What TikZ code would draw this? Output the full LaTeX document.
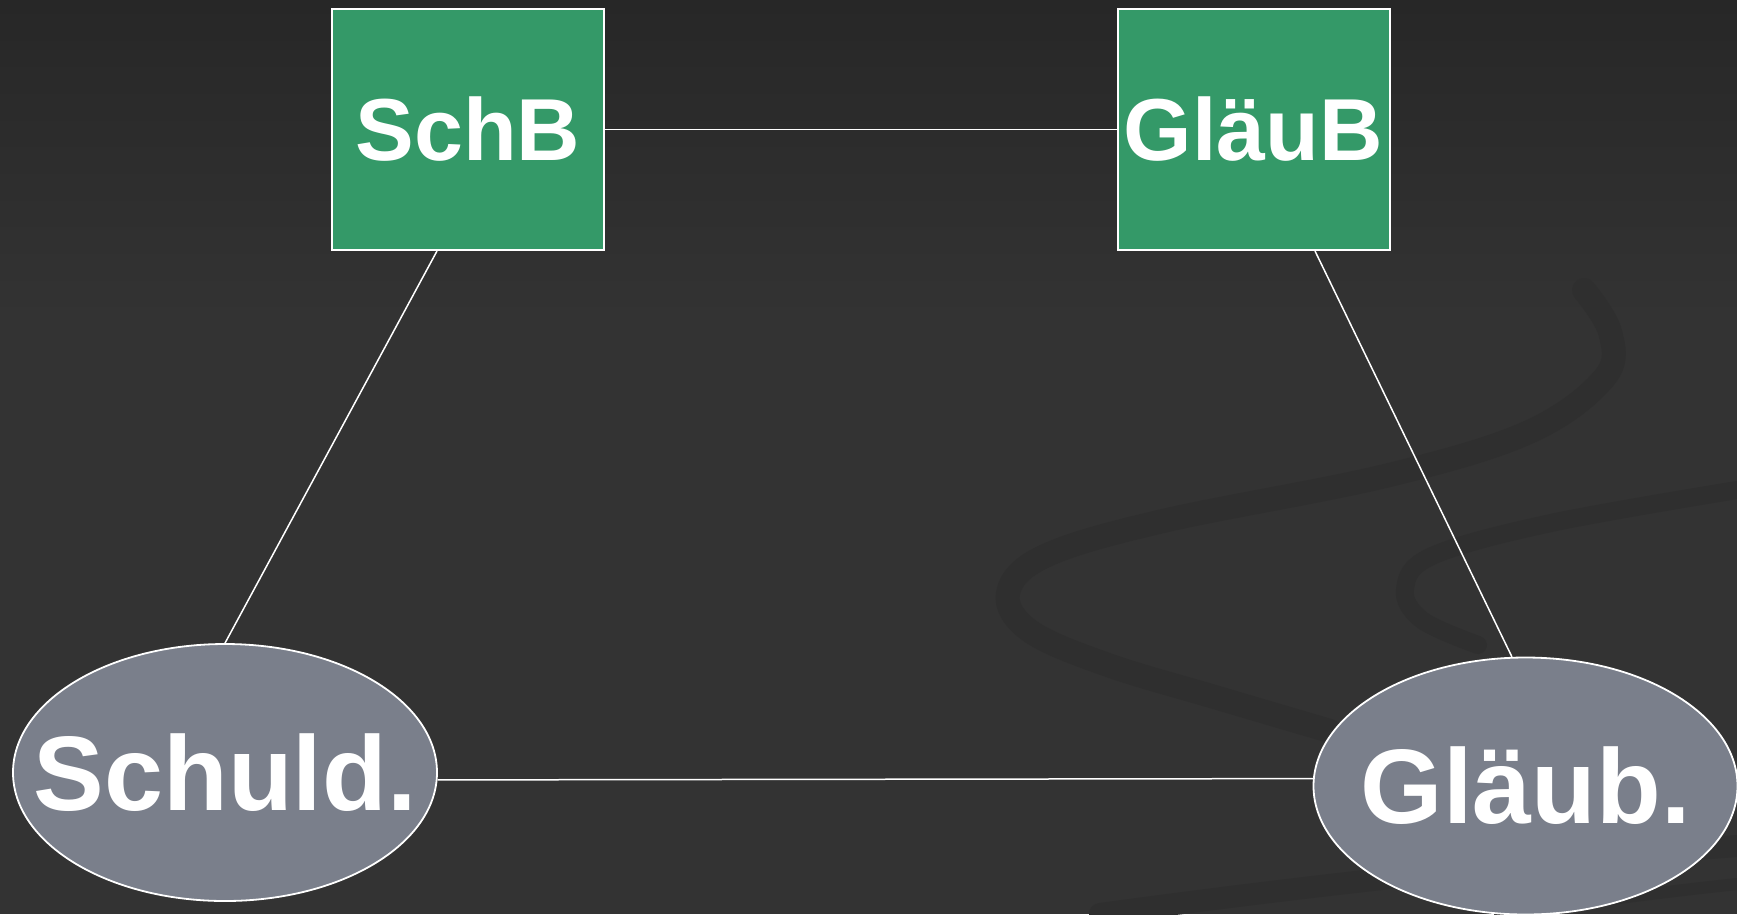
\documentclass[tikz,border=0pt]{standalone}
\usepackage{fontspec}
\setmainfont{Liberation Sans}
\usetikzlibrary{shapes.geometric}
\definecolor{bgtop}{RGB}{39,39,39}
\definecolor{bgmid}{RGB}{51,51,51}
\definecolor{boxgreen}{RGB}{52,153,104}
\definecolor{ellgray}{RGB}{122,127,139}
\definecolor{swirlc}{RGB}{47,47,47}
\tikzset{
  gbox/.style={draw=white, line width=2pt, fill=boxgreen, minimum width=272pt, minimum height=241pt,
    inner sep=0pt, text=white, font=\bfseries\fontsize{88}{90}\selectfont},
  gell/.style={ellipse, draw=white, line width=1.8pt, fill=ellgray, minimum width=424pt,
    minimum height=257pt, inner sep=0pt},
  elltext/.style={text=white, inner sep=0pt, font=\bfseries\fontsize{106}{110}\selectfont},
  conn/.style={draw=white, line width=1.5pt},
  swirlband/.style={draw=swirlc, line cap=round, line join=round}
}
\begin{document}
\begin{tikzpicture}[x=1pt,y=-1pt]
\useasboundingbox (0,0) rectangle (1737,914);
% background
\fill[top color=bgtop, bottom color=bgmid] (0,0) rectangle (1737,320);
\fill[bgmid] (0,319) rectangle (1737,914);
% swirl decoration
\draw[swirlband, line width=24pt] plot[smooth, tension=0.6] coordinates {(1584,290) (1610,332) (1605,377) (1529,432) (1385,476) (1163,521) (1045,556) (1008,593) (1030,631) (1108,665) (1218,698) (1330,731)};
\draw[swirlband, line width=18pt] plot[smooth, tension=0.6] coordinates {(1737,490) (1551,523) (1432,556) (1405,589) (1422,620) (1478,645)};
\draw[swirlband, line width=22pt] (1100,914) .. controls (1350,880) and (1550,860) .. (1737,846);
\draw[swirlband, line width=12pt] (1500,914) .. controls (1600,900) and (1680,890) .. (1737,884);
% nodes
\node[gbox] (SchB) at (468,129.5) {SchB};
\node[gbox] (GlaeuB) at (1253.5,129.5) {GläuB};
\node[gell, label={[elltext]center:Schuld.}] (Schuld) at (225,772.5) {};
\node[gell, label={[elltext]center:Gläub.}] (Glaeub) at (1525.5,786) {};
% connectors
\draw[conn] (SchB.east) -- (GlaeuB.west);
\draw[conn] ([xshift=-31pt]SchB.south) -- (Schuld.north);
\draw[conn] ([xshift=61.5pt]GlaeuB.south) -- (Glaeub.96);
\draw[conn] (Schuld.-2) -- (Glaeub.178.4);
\end{tikzpicture}
\end{document}
